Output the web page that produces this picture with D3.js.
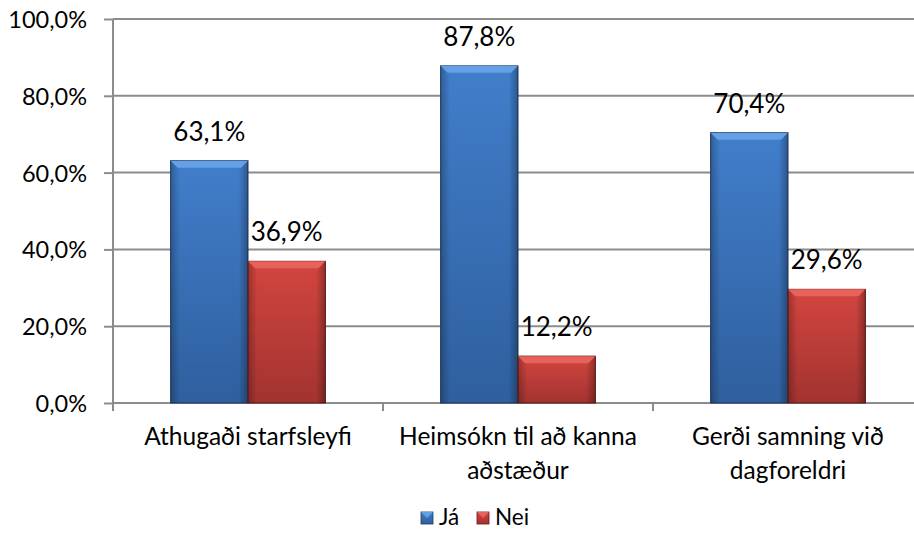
<!DOCTYPE html>
<html>
<head>
<meta charset="utf-8">
<script src="https://cdn.jsdelivr.net/npm/d3@7"></script>
<style>
  body { margin: 0; background: #fff; }
  text { font-family: Lato, "Open Sans", sans-serif; fill: #000; }
</style>
</head>
<body>
<svg id="chart" width="914" height="536"></svg>
<script>
// data
var categories = ["Athugaði starfsleyfi", "Heimsókn til að kanna aðstæður", "Gerði samning við dagforeldri"];
var seriesNames = ["Já", "Nei"];
var jaValues = [63.1, 87.8, 70.4];
var neiValues = [36.9, 12.2, 29.6];
var yTicks = [0, 20, 40, 60, 80, 100];

var colors = {
  "Já": { light: "#64a0e4", mid: "#417ecb", dark: "#2f5f9e", edge: "#1d3a62" },
  "Nei": { light: "#e8625c", mid: "#d3453f", dark: "#a23330", edge: "#5e1a18" }
};

var svg = d3.select("#chart");
var plotL = 113, plotR = 923, plotT = 19, plotB = 403;

var x0 = d3.scaleBand().domain(categories).range([plotL, plotR]);
var x1 = d3.scaleBand().domain(seriesNames).range([0, x0.bandwidth()]).paddingOuter(0.745);
var y = d3.scaleLinear().domain([0, 100]).range([plotB, plotT]);

var fmt = function(v) { return d3.format(".1f")(v).replace(".", ",") + "%"; };

// gradients
var defs = svg.append("defs");
seriesNames.forEach(function(s, i) {
  var g = defs.append("linearGradient").attr("id", "grad" + i)
    .attr("x1", 0).attr("y1", 0).attr("x2", 0).attr("y2", 1);
  g.append("stop").attr("offset", "0%").attr("stop-color", colors[s].mid);
  g.append("stop").attr("offset", "100%").attr("stop-color", colors[s].dark);
  var h = defs.append("linearGradient").attr("id", "side" + i)
    .attr("x1", 0).attr("y1", 0).attr("x2", 1).attr("y2", 0);
  h.append("stop").attr("offset", "0%").attr("stop-color", "#000").attr("stop-opacity", 0.25);
  h.append("stop").attr("offset", "12%").attr("stop-color", "#000").attr("stop-opacity", 0);
  h.append("stop").attr("offset", "88%").attr("stop-color", "#000").attr("stop-opacity", 0);
  h.append("stop").attr("offset", "100%").attr("stop-color", "#000").attr("stop-opacity", 0.3);
});

// gridlines + y axis
var yAxis = d3.axisLeft(y).tickValues(yTicks).tickSize(9).tickFormat(function(d) { return fmt(d); });
var ga = svg.append("g").attr("transform", "translate(" + plotL + ",0)").call(yAxis);
ga.select(".domain").remove();
ga.selectAll(".tick line").attr("stroke", "#8c8c8c").attr("stroke-width", 2);
ga.selectAll(".tick text").attr("x", -26).attr("dy", "0.36em").style("font-size", "23.5px");

svg.append("g").selectAll("line").data(yTicks).enter().append("line")
  .attr("x1", plotL).attr("x2", plotR)
  .attr("y1", function(d) { return y(d); }).attr("y2", function(d) { return y(d); })
  .attr("stroke", "#8c8c8c").attr("stroke-width", 2);

svg.append("line").attr("x1", plotL).attr("x2", plotL).attr("y1", plotT).attr("y2", plotB)
  .attr("stroke", "#8c8c8c").attr("stroke-width", 2);

// category ticks
var catTicks = categories.map(function(c) { return x0(c); }).concat([plotR]);
svg.append("g").selectAll("line").data(catTicks).enter().append("line")
  .attr("x1", function(d) { return d; }).attr("x2", function(d) { return d; })
  .attr("y1", plotB).attr("y2", plotB + 8)
  .attr("stroke", "#8c8c8c").attr("stroke-width", 2);

// bars
var rows = categories.map(function(c, i) {
  return { cat: c, vals: [{ s: "Já", v: jaValues[i], k: 0 }, { s: "Nei", v: neiValues[i], k: 1 }] };
});

var groups = svg.append("g").selectAll("g").data(rows).enter().append("g")
  .attr("transform", function(d) { return "translate(" + x0(d.cat) + ",0)"; });

var bars = groups.selectAll("g.bar").data(function(d) { return d.vals; }).enter().append("g").attr("class", "bar");
var bw = x1.bandwidth(), bev = 7;

bars.append("rect")
  .attr("x", function(d) { return x1(d.s); })
  .attr("y", function(d) { return y(d.v); })
  .attr("width", bw)
  .attr("height", function(d) { return plotB - y(d.v); })
  .attr("fill", function(d) { return "url(#grad" + d.k + ")"; })
  .attr("stroke", function(d) { return colors[d.s].edge; })
  .attr("stroke-width", 1);

bars.append("rect")
  .attr("x", function(d) { return x1(d.s); })
  .attr("y", function(d) { return y(d.v); })
  .attr("width", bw)
  .attr("height", function(d) { return plotB - y(d.v); })
  .attr("fill", function(d) { return "url(#side" + d.k + ")"; });

// top bevel
bars.append("path")
  .attr("d", function(d) {
    var xa = x1(d.s), xb = xa + bw, yt = y(d.v);
    return "M" + xa + "," + yt + "L" + xb + "," + yt + "L" + (xb - bev) + "," + (yt + bev) + "L" + (xa + bev) + "," + (yt + bev) + "Z";
  })
  .attr("fill", function(d) { return colors[d.s].light; });

// value labels
groups.selectAll("text.val").data(function(d) { return d.vals; }).enter().append("text")
  .attr("class", "val")
  .attr("x", function(d) { return x1(d.s) + bw / 2; })
  .attr("y", function(d) { return y(d.v) - 20; })
  .attr("text-anchor", "middle")
  .style("font-size", "26px")
  .text(function(d) { return fmt(d.v); });

// category labels with wrapping
var labels = svg.append("g").selectAll("text").data(categories).enter().append("text")
  .attr("x", function(d) { return x0(d) + x0.bandwidth() / 2; })
  .attr("y", 445)
  .attr("text-anchor", "middle")
  .style("font-size", "24.5px");

labels.each(function(d) {
  var t = d3.select(this), words = d.split(" "), line = [];
  var cx = x0(d) + x0.bandwidth() / 2;
  var ts = t.append("tspan").attr("x", cx).attr("dy", 0);
  words.forEach(function(w) {
    line.push(w);
    ts.text(line.join(" "));
    if (ts.node().getComputedTextLength() > 255 && line.length > 1) {
      line.pop();
      ts.text(line.join(" "));
      line = [w];
      ts = t.append("tspan").attr("x", cx).attr("dy", 34).text(w);
    }
  });
});

// legend
var legend = svg.append("g").attr("transform", "translate(421,512)");
var li = legend.selectAll("g").data(seriesNames).enter().append("g")
  .attr("transform", function(d, i) { return "translate(" + (i * 56) + ",0)"; });
li.append("rect").attr("width", 12).attr("height", 12)
  .attr("fill", function(d, i) { return "url(#grad" + i + ")"; })
  .attr("stroke", function(d) { return colors[d].edge; }).attr("stroke-width", 0.8);
li.append("path").attr("d", "M0,0L12,0L6,6Z").attr("fill", function(d) { return colors[d].light; });
li.append("text").attr("x", 18).attr("y", 13).style("font-size", "22.5px").text(function(d) { return d; });
</script>
</body>
</html>
